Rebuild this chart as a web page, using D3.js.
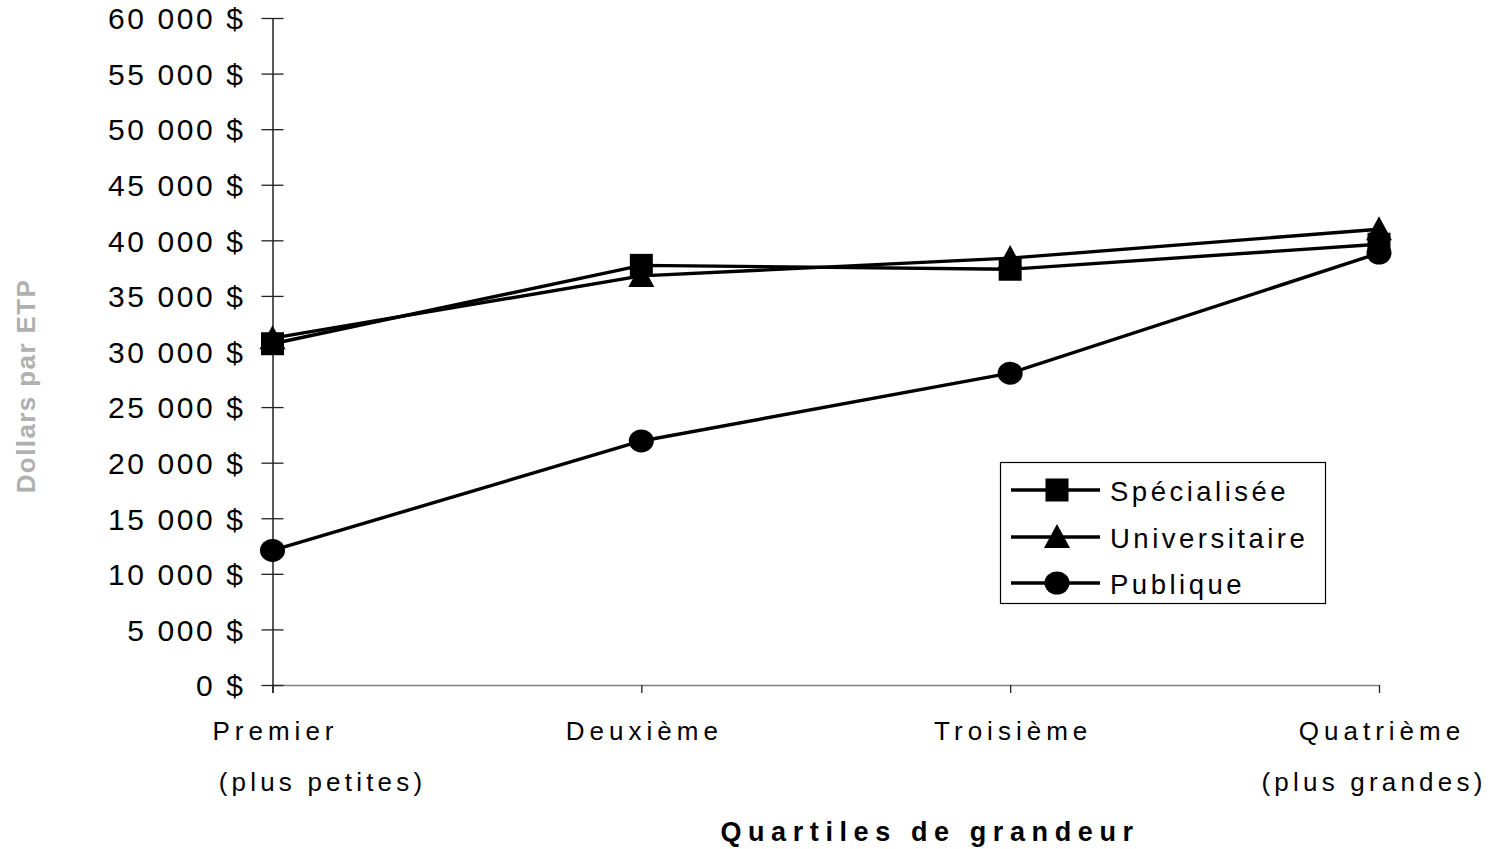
<!DOCTYPE html>
<html>
<head>
<meta charset="utf-8">
<script src="https://cdn.jsdelivr.net/npm/d3@7"></script>
<style>
  html, body { margin: 0; padding: 0; background: #fff; }
  svg { display: block; font-family: "Liberation Sans", Arial, sans-serif; }
</style>
</head>
<body>
<svg id="chart" width="1497" height="849"></svg>
<script>
// ---- data ----
const categories = ["Premier", "Deuxième", "Troisième", "Quatrième"];
const categorySublabels = ["(plus petites)", "", "", "(plus grandes)"];
const seriesNames = ["Spécialisée", "Universitaire", "Publique"];
const specialisee = [30700, 37750, 37400, 39650];
const universitaire = [31200, 36800, 38400, 41000];
const publique = [12100, 21950, 28050, 38850];
const yTicks = [0, 5000, 10000, 15000, 20000, 25000, 30000, 35000, 40000, 45000, 50000, 55000, 60000];
const xTitle = "Quartiles de grandeur";
const yTitle = "Dollars par ETP";

const series = [
  { name: seriesNames[0], values: specialisee, marker: "square" },
  { name: seriesNames[1], values: universitaire, marker: "triangle" },
  { name: seriesNames[2], values: publique, marker: "circle" }
];

const svg = d3.select("#chart");
const x = d3.scalePoint().domain(categories).range([272.5, 1379]);
const y = d3.scaleLinear().domain([0, 60000]).range([685, 18]);

const locale = d3.formatLocale({ decimal: ",", thousands: " ", grouping: [3], currency: ["", " $"] });
const fmt = v => locale.format(",")(v) + " $";

function drawMarker(g, type, cx, cy) {
  if (type === "square") {
    g.append("rect").attr("x", cx - 11.5).attr("y", cy - 11.5).attr("width", 23).attr("height", 23).attr("fill", "#000");
  } else if (type === "triangle") {
    g.append("path").attr("d", `M${cx},${cy - 13}L${cx + 13},${cy + 11}L${cx - 13},${cy + 11}Z`).attr("fill", "#000");
  } else {
    g.append("ellipse").attr("cx", cx).attr("cy", cy).attr("rx", 12.5).attr("ry", 11.5).attr("fill", "#000");
  }
}

// ---- x axis ----
const xAxis = svg.append("g").attr("transform", `translate(0,${y(0)})`)
  .call(d3.axisBottom(x).tickSize(8).tickFormat(""));
xAxis.select(".domain").attr("d", `M${x.range()[0]},0.5H${x.range()[1]}`).attr("stroke", "#808080").attr("stroke-width", 1.5);
xAxis.selectAll(".tick line").attr("stroke", "#222").attr("stroke-width", 1.3);

// category labels
categories.forEach((c, i) => {
  svg.append("text").attr("x", x(c) + 3).attr("y", 740)
    .attr("text-anchor", "middle").attr("font-size", 26).style("letter-spacing", "5px")
    .attr("fill", "#000").text(c);
  if (categorySublabels[i]) {
    const off = i === 0 ? 50 : -5;
    svg.append("text").attr("x", x(c) + off).attr("y", 791)
      .attr("text-anchor", "middle").attr("font-size", 26).style("letter-spacing", "4.2px")
      .attr("fill", "#000").text(categorySublabels[i]);
  }
});

// ---- y axis ----
const yAxis = svg.append("g").attr("transform", `translate(${x.range()[0]},0)`)
  .call(d3.axisLeft(y).tickValues(yTicks).tickSize(0).tickFormat(fmt));
yAxis.select(".domain").attr("d", `M0.5,${y(60000)}V${y(0) + 8}`).attr("stroke", "#222").attr("stroke-width", 1.5);
yAxis.selectAll(".tick").append("line").attr("x1", -11).attr("x2", 11).attr("stroke", "#222").attr("stroke-width", 1.3);
yAxis.selectAll(".tick text")
  .attr("x", -27).attr("dy", "0.36em")
  .attr("font-size", 30).style("letter-spacing", "2.6px")
  .attr("font-family", "Liberation Sans, Arial, sans-serif")
  .attr("fill", "#000");

// ---- titles ----
svg.append("text").attr("transform", `translate(35,386) rotate(-90)`)
  .attr("text-anchor", "middle").attr("font-size", 26).attr("font-weight", "bold")
  .style("letter-spacing", "1.4px").attr("fill", "#b0b0b0").text(yTitle);
svg.append("text").attr("x", 930).attr("y", 841)
  .attr("text-anchor", "middle").attr("font-size", 27).attr("font-weight", "bold")
  .style("letter-spacing", "6.6px").attr("fill", "#000").text(xTitle);

// ---- lines ----
const line = d3.line().x((d, i) => x(categories[i])).y(d => y(d));
const gLines = svg.append("g");
series.forEach(s => {
  gLines.append("path").attr("d", line(s.values)).attr("fill", "none")
    .attr("stroke", "#000").attr("stroke-width", 3.4).attr("stroke-linejoin", "round");
});
const gMarks = svg.append("g");
series.forEach(s => {
  s.values.forEach((v, i) => drawMarker(gMarks, s.marker, x(categories[i]), y(v)));
});

// ---- legend ----
const lg = svg.append("g");
lg.append("rect").attr("x", 1000.5).attr("y", 462.5).attr("width", 325).attr("height", 141)
  .attr("fill", "#fff").attr("stroke", "#000").attr("stroke-width", 1.2);
const rowY = [490, 537, 583];
series.forEach((s, i) => {
  lg.append("line").attr("x1", 1011).attr("x2", 1100).attr("y1", rowY[i]).attr("y2", rowY[i])
    .attr("stroke", "#000").attr("stroke-width", 3.4);
  drawMarker(lg, s.marker, 1057, rowY[i]);
  lg.append("text").attr("x", 1110).attr("y", rowY[i] + 11)
    .attr("font-size", 27.5).style("letter-spacing", "3.5px").attr("fill", "#000").text(s.name);
});
</script>
</body>
</html>
